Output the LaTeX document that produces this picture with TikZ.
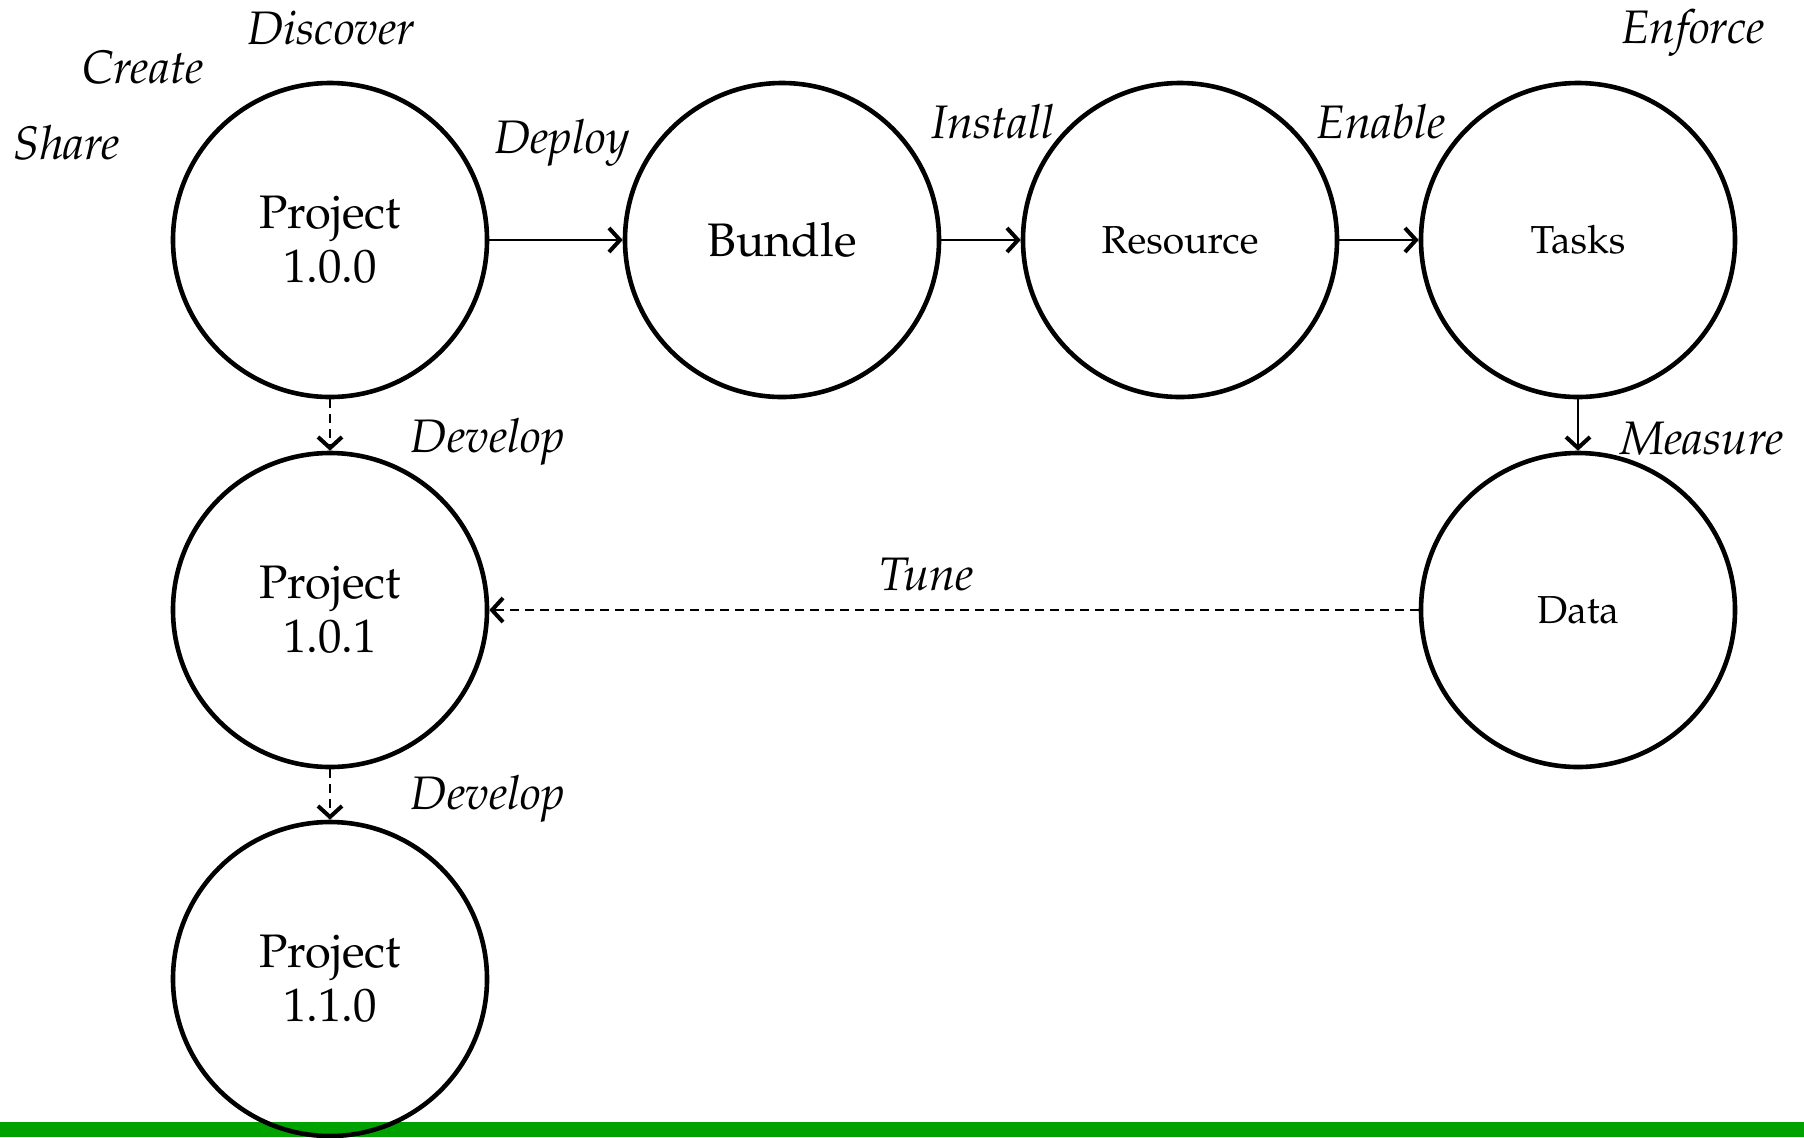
\documentclass[tikz,border=0pt]{standalone}
\usepackage[T1]{fontenc}
\usepackage{mathpazo}
\usetikzlibrary{arrows.meta}

\definecolor{bargreen}{RGB}{0,162,0}

\tikzset{
  stage/.style={circle, draw, line width=2.3pt, minimum size=157pt, inner sep=0pt,
    align=center, font=\fontsize{23.5}{27}\selectfont},
  smallstage/.style={stage, font=\fontsize{19.5}{23}\selectfont},
  flow/.style={line width=1pt, -{Straight Barb[length=5.5pt,width=12pt,line width=2pt]}},
  verb/.style={anchor=base, inner sep=0pt, font=\fontsize{23.5}{27}\selectfont\itshape},
}

\begin{document}
\begin{tikzpicture}[x=0.5pt, y=-0.5pt]
    \useasboundingbox (0,0) rectangle (1804,1137);

    % bottom bar
    \fill[bargreen] (0,1122) rectangle (1804,1137);

    % stages
    \node[stage] (p100) at (330,240) {Project\\1.0.0};
    \node[stage] (bundle) at (782,240) {Bundle};
    \node[smallstage] (res) at (1180,240) {Resource};
    \node[smallstage] (tasks) at (1578,240) {Tasks};
    \node[smallstage] (data) at (1578,610) {Data};
    \node[stage] (p101) at (330,610) {Project\\1.0.1};
    \node[stage] (p110) at (330,979) {Project\\1.1.0};

    % connectors
    \draw[flow] (p100) -- (bundle);
    \draw[flow] (bundle) -- (res);
    \draw[flow] (res) -- (tasks);
    \draw[flow] (tasks) -- (data);
    \draw[flow, dash pattern=on 4.5pt off 3pt] (data) -- (p101);
    \draw[flow, dash pattern=on 4.5pt off 3pt] (p100) -- (p101);
    \draw[flow, dash pattern=on 4.5pt off 3pt] (p101) -- (p110);

    % verbs
    \node[verb] (discover) at (331,44) {Discover};
    \node[verb] (create) at (143,83) {Create};
    \node[verb] (share) at (67,159) {Share};
    \node[verb] (deploy) at (562,153) {Deploy};
    \node[verb] (install) at (993,138) {Install};
    \node[verb] (enable) at (1381,138) {Enable};
    \node[verb] (enforce) at (1693,43) {Enforce};
    \node[verb] (measure) at (1702,454) {Measure};
    \node[verb] (develop1) at (488,452) {Develop};
    \node[verb] (develop2) at (488,809) {Develop};
    \node[verb] (tune) at (927,590) {Tune};
\end{tikzpicture}
\end{document}
